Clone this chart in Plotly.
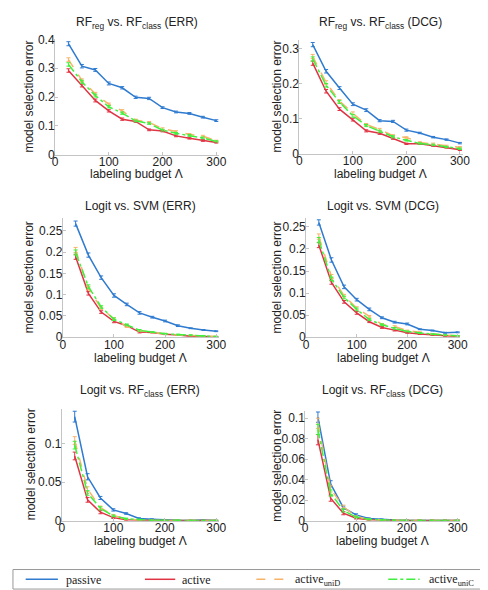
import plotly.graph_objects as go

W, H = 488, 590

budget = [25, 50, 75, 100, 125, 150, 175, 200, 225, 250, 275, 300]
x_ticks = [0, 100, 200, 300]

series_names = ["passive", "active", "active<sub>uniD</sub>", "active<sub>uniC</sub>"]

# Panel 1: RF_reg vs RF_class (ERR)
p1_passive = [0.385, 0.307, 0.294, 0.247, 0.232, 0.199, 0.195, 0.163, 0.148, 0.143, 0.130, 0.118]
p1_active = [0.292, 0.240, 0.188, 0.152, 0.123, 0.115, 0.086, 0.082, 0.065, 0.057, 0.049, 0.042]
p1_uniD = [0.330, 0.258, 0.211, 0.175, 0.152, 0.120, 0.112, 0.090, 0.080, 0.070, 0.064, 0.048]
p1_uniC = [0.313, 0.253, 0.205, 0.166, 0.144, 0.117, 0.108, 0.085, 0.074, 0.067, 0.058, 0.046]
p1_err_passive = [0.007, 0.006, 0.005, 0.005, 0.004, 0.004, 0.004, 0.003, 0.003, 0.003, 0.003, 0.003]
p1_err_other = [0.006, 0.005, 0.005, 0.004, 0.004, 0.003, 0.003, 0.003, 0.003, 0.003, 0.003, 0.002]

# Panel 2: RF_reg vs RF_class (DCG)
p2_passive = [0.311, 0.235, 0.187, 0.141, 0.124, 0.094, 0.092, 0.067, 0.059, 0.047, 0.040, 0.030]
p2_active = [0.258, 0.178, 0.127, 0.097, 0.065, 0.058, 0.044, 0.028, 0.028, 0.023, 0.018, 0.011]
p2_uniD = [0.277, 0.203, 0.150, 0.115, 0.083, 0.069, 0.051, 0.046, 0.032, 0.028, 0.022, 0.018]
p2_uniC = [0.270, 0.195, 0.147, 0.108, 0.080, 0.064, 0.048, 0.038, 0.029, 0.025, 0.019, 0.014]
p2_err_passive = [0.006, 0.005, 0.004, 0.004, 0.004, 0.003, 0.003, 0.003, 0.002, 0.002, 0.002, 0.002]
p2_err_other = [0.006, 0.005, 0.004, 0.004, 0.003, 0.003, 0.003, 0.002, 0.002, 0.002, 0.002, 0.002]

# Panel 3: Logit vs SVM (ERR)
p3_passive = [0.267, 0.193, 0.140, 0.098, 0.077, 0.057, 0.047, 0.038, 0.027, 0.021, 0.017, 0.014]
p3_active = [0.189, 0.103, 0.059, 0.037, 0.027, 0.012, 0.011, 0.007, 0.005, 0.002, 0.0015, 0.001]
p3_uniD = [0.205, 0.115, 0.068, 0.043, 0.025, 0.015, 0.011, 0.008, 0.005, 0.004, 0.002, 0.0015]
p3_uniC = [0.199, 0.119, 0.071, 0.042, 0.029, 0.016, 0.012, 0.008, 0.006, 0.0045, 0.003, 0.0015]
p3_err_passive = [0.006, 0.005, 0.004, 0.004, 0.003, 0.003, 0.002, 0.002, 0.002, 0.001, 0.001, 0.001]
p3_err_other = [0.006, 0.004, 0.003, 0.003, 0.002, 0.002, 0.001, 0.001, 0.001, 0.001, 0.001, 0.0005]

# Panel 4: Logit vs SVM (DCG)
p4_passive = [0.260, 0.175, 0.114, 0.085, 0.063, 0.044, 0.034, 0.030, 0.018, 0.015, 0.010, 0.011]
p4_active = [0.209, 0.124, 0.080, 0.055, 0.035, 0.022, 0.016, 0.010, 0.007, 0.005, 0.003, 0.0015]
p4_uniD = [0.228, 0.138, 0.094, 0.066, 0.047, 0.029, 0.024, 0.015, 0.011, 0.007, 0.0045, 0.003]
p4_uniC = [0.220, 0.132, 0.090, 0.063, 0.040, 0.028, 0.020, 0.013, 0.0095, 0.0066, 0.0045, 0.003]
p4_err_passive = [0.006, 0.005, 0.004, 0.003, 0.003, 0.002, 0.002, 0.002, 0.001, 0.001, 0.001, 0.001]
p4_err_other = [0.006, 0.004, 0.003, 0.003, 0.002, 0.002, 0.002, 0.001, 0.001, 0.001, 0.001, 0.0005]

# Panel 5: Logit vs RF_class (ERR)
p5_passive = [0.135, 0.057, 0.0295, 0.014, 0.0093, 0.003, 0.002, 0.001, 0.0005, 0.0003, 0.001, 0.0002]
p5_active = [0.084, 0.027, 0.011, 0.004, 0.0013, 0.0004, 0.0002, 0.0002, 0.0002, 0.0002, 0.0002, 0.0002]
p5_uniD = [0.104, 0.041, 0.017, 0.007, 0.002, 0.001, 0.0005, 0.0003, 0.0003, 0.0003, 0.0003, 0.0003]
p5_uniC = [0.098, 0.036, 0.016, 0.0063, 0.0025, 0.0013, 0.0006, 0.0005, 0.0004, 0.0004, 0.0003, 0.0003]
p5_err_passive = [0.007, 0.004, 0.002, 0.0015, 0.001, 0.0008, 0.0005, 0.0003, 0.0003, 0.0003, 0.0003, 0.0003]
p5_err_other = [0.005, 0.003, 0.002, 0.001, 0.0008, 0.0005, 0.0003, 0.0003, 0.0003, 0.0003, 0.0003, 0.0003]

# Panel 6: Logit vs RF_class (DCG)
p6_passive = [0.101, 0.036, 0.0127, 0.0057, 0.0022, 0.0013, 0.0006, 0.0003, 0.0003, 0.0003, 0.0003, 0.0003]
p6_active = [0.079, 0.022, 0.0073, 0.0025, 0.001, 0.0003, 0.0003, 0.0003, 0.0003, 0.0003, 0.0003, 0.0003]
p6_uniD = [0.095, 0.031, 0.0137, 0.004, 0.0013, 0.0005, 0.0004, 0.0003, 0.0003, 0.0003, 0.0003, 0.0003]
p6_uniC = [0.089, 0.027, 0.010, 0.0035, 0.0013, 0.0005, 0.0004, 0.0003, 0.0003, 0.0003, 0.0003, 0.0003]
p6_err_passive = [0.005, 0.003, 0.0015, 0.001, 0.0006, 0.0004, 0.0003, 0.0003, 0.0003, 0.0003, 0.0003, 0.0003]
p6_err_other = [0.005, 0.003, 0.0015, 0.0008, 0.0005, 0.0003, 0.0003, 0.0003, 0.0003, 0.0003, 0.0003, 0.0003]

titles = [
    "RF<sub>reg</sub> vs. RF<sub>class</sub> (ERR)",
    "RF<sub>reg</sub> vs. RF<sub>class</sub> (DCG)",
    "Logit vs. SVM (ERR)",
    "Logit vs. SVM (DCG)",
    "Logit vs. RF<sub>class</sub> (ERR)",
    "Logit vs. RF<sub>class</sub> (DCG)",
]
y_ranges = [[0, 0.4], [0, 0.325], [0, 0.28], [0, 0.27], [0, 0.145], [0, 0.107]]
y_dticks = [0.1, 0.1, 0.05, 0.05, 0.05, 0.02]

panels = [
    (p1_passive, p1_active, p1_uniD, p1_uniC, p1_err_passive, p1_err_other),
    (p2_passive, p2_active, p2_uniD, p2_uniC, p2_err_passive, p2_err_other),
    (p3_passive, p3_active, p3_uniD, p3_uniC, p3_err_passive, p3_err_other),
    (p4_passive, p4_active, p4_uniD, p4_uniC, p4_err_passive, p4_err_other),
    (p5_passive, p5_active, p5_uniD, p5_uniC, p5_err_passive, p5_err_other),
    (p6_passive, p6_active, p6_uniD, p6_uniC, p6_err_passive, p6_err_other),
]

# layout in pixels: (x_left, x_right, y_top, y_bottom)
boxes = [
    (45, 212.8, 25, 143),
    (295, 462, 25.3, 142),
    (53, 212.6, 208, 330),
    (302, 459.6, 208, 330),
    (52, 212.6, 403.5, 518),
    (301, 459.6, 405.6, 518),
]
title_y = [8, 8, 196, 196, 385, 385]
xlabel_y = [163, 163, 351, 351, 539, 539]
ylabel_x = [18, 272, 18, 272, 20, 272]

colors = ["#2f7bd0", "#e03444", "#f7b469", "#3ff03f"]
dashes = ["solid", "solid", "dash", "dashdot"]

fig = go.Figure()
AXCOL = "#c4c4c4"
TXT = "#222222"
FONT = "Liberation Sans, Arial, sans-serif"
SERIF = "Liberation Serif, Times New Roman, serif"

for i, (pas, act, unid, unic, ep, eo) in enumerate(panels):
    xa = "x" if i == 0 else f"x{i+1}"
    ya = "y" if i == 0 else f"y{i+1}"
    vals = [pas, act, unid, unic]
    errs = [ep, eo, eo, eo]
    for k in range(4):
        fig.add_trace(go.Scatter(
            x=budget, y=vals[k], mode="lines",
            line=dict(color=colors[k], width=1.5, dash=dashes[k]),
            error_y=dict(type="data", array=errs[k], visible=True,
                         color=colors[k], thickness=1, width=2),
            name=series_names[k], showlegend=False, xaxis=xa, yaxis=ya,
        ))
    x0, x1, yt, yb = boxes[i]
    axkey = "xaxis" if i == 0 else f"xaxis{i+1}"
    aykey = "yaxis" if i == 0 else f"yaxis{i+1}"
    fig.update_layout(**{
        axkey: dict(domain=[x0 / W, x1 / W], range=[0, 305], tickvals=x_ticks,
                    showgrid=False, zeroline=False, showline=True, linecolor=AXCOL,
                    ticks="inside", ticklen=3, tickcolor=AXCOL, ticklabelstandoff=-4,
                    tickfont=dict(family=FONT, size=12, color=TXT),
                    anchor=ya, fixedrange=True),
        aykey: dict(domain=[1 - yb / H, 1 - yt / H], range=y_ranges[i], dtick=y_dticks[i],
                    showgrid=False, zeroline=False, showline=True, linecolor=AXCOL,
                    ticks="inside", ticklen=3, tickcolor=AXCOL, ticklabelstandoff=-3,
                    tickfont=dict(family=FONT, size=12, color=TXT),
                    anchor=xa, fixedrange=True),
    })
    cx = (x0 + x1) / 2
    fig.add_annotation(text=titles[i], x=cx / W, y=1 - title_y[i] / H, xref="paper", yref="paper",
                       showarrow=False, xanchor="center", yanchor="middle",
                       font=dict(family=FONT, size=12, color=TXT))
    fig.add_annotation(text="labeling budget Λ", x=cx / W, y=1 - xlabel_y[i] / H, xref="paper", yref="paper",
                       showarrow=False, xanchor="center", yanchor="middle",
                       font=dict(family=FONT, size=12, color=TXT))
    fig.add_annotation(text="model selection error", x=ylabel_x[i] / W, y=1 - (yt + yb) / 2 / H,
                       xref="paper", yref="paper", textangle=-90,
                       showarrow=False, xanchor="center", yanchor="middle",
                       font=dict(family=FONT, size=12, color=TXT))

# Legend box (drawn as shapes + text)
legend_line_x = [(15, 48), (137, 168), (251, 283), (386, 418)]
legend_text_x = [54, 173, 289, 426]
LEG_Y = 578
fig.add_shape(type="rect", xref="paper", yref="paper",
              x0=2 / W, x1=485 / W, y0=1 - 588 / H, y1=1 - 568 / H,
              line=dict(color="#999999", width=1), fillcolor="white", layer="below")
for k in range(4):
    lx0, lx1 = legend_line_x[k]
    fig.add_shape(type="line", xref="paper", yref="paper",
                  x0=lx0 / W, x1=lx1 / W, y0=1 - LEG_Y / H, y1=1 - LEG_Y / H,
                  line=dict(color=colors[k], width=1.5, dash=dashes[k]))
    fig.add_annotation(text=series_names[k], x=legend_text_x[k] / W, y=1 - (LEG_Y + 0.5) / H,
                       xref="paper", yref="paper", showarrow=False,
                       xanchor="left", yanchor="middle",
                       font=dict(family=SERIF, size=12, color=TXT))

fig.update_layout(
    width=W, height=H,
    margin=dict(l=0, r=0, t=0, b=0),
    paper_bgcolor="white", plot_bgcolor="white",
    showlegend=False,
)

fig.write_html("out.html")
